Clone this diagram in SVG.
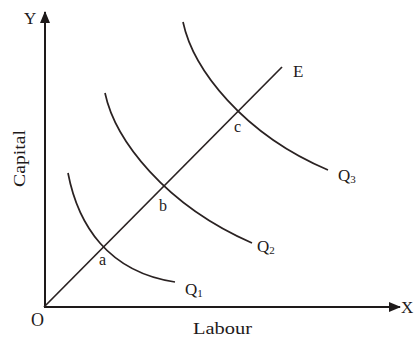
<svg xmlns="http://www.w3.org/2000/svg" width="414" height="337" viewBox="0 0 414 337">
<style>
.ax{stroke:#1e1a1a;stroke-width:2;fill:none}
.cv{stroke:#2a2222;stroke-width:1.7;fill:none}
.t{font-family:"Liberation Serif","Times New Roman",serif;fill:#1e1a1a}
</style>
<defs>
<marker id="ah" markerWidth="12" markerHeight="10" refX="11" refY="5" orient="auto" markerUnits="userSpaceOnUse">
<path d="M0,0 L12,5 L0,10 Z" fill="#1e1a1a"/>
</marker>
</defs>
<rect width="414" height="337" fill="#fff"/>
<g id="axes">
<line class="ax" x1="45" y1="308" x2="45" y2="12" marker-end="url(#ah)"/>
<line class="ax" x1="44" y1="307" x2="400" y2="307" marker-end="url(#ah)"/>
<text class="t" x="24" y="24" font-size="17">Y</text>
<text class="t" x="401" y="313" font-size="17">X</text>
<text class="t" x="31" y="326" font-size="18">O</text>
<text class="t" x="193" y="334" font-size="17" textLength="59" lengthAdjust="spacingAndGlyphs">Labour</text>
<text class="t" transform="translate(25,187) rotate(-90)" font-size="17" textLength="57" lengthAdjust="spacingAndGlyphs">Capital</text>
</g>
<g id="connectors">
<line id="E-line" class="cv" x1="44" y1="307" x2="282" y2="67"/>
</g>
<g id="Q1">
<path class="cv" d="M68,173 C78,225 108,272 175,282"/>
<text class="t" x="185" y="295" font-size="17">Q<tspan font-size="11" dy="2">1</tspan></text>
</g>
<g id="Q2">
<path class="cv" d="M105,93 C115,140 165,205 252,243"/>
<text class="t" x="257" y="252" font-size="17">Q<tspan font-size="11" dy="2">2</tspan></text>
</g>
<g id="Q3">
<path class="cv" d="M183,22 C193,69 243,134 328,170"/>
<text class="t" x="338" y="181" font-size="17">Q<tspan font-size="11" dy="2">3</tspan></text>
</g>
<g id="E"><text class="t" x="293" y="77" font-size="17">E</text></g>
<g id="a"><text class="t" x="99" y="265" font-size="16">a</text></g>
<g id="b"><text class="t" x="159" y="211" font-size="16">b</text></g>
<g id="c"><text class="t" x="234" y="132" font-size="16">c</text></g>
</svg>
